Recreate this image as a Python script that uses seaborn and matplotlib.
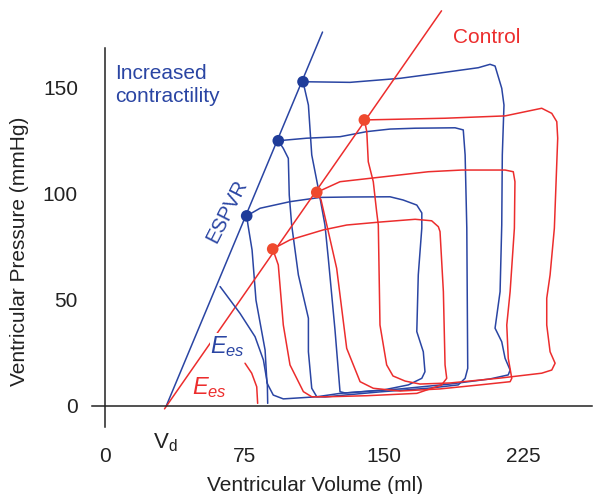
import numpy as np
import pandas as pd
import seaborn as sns
from matplotlib import pyplot as plt

BLUE = "#2a45a3"
RED = "#ec2d2d"
RED_DOT = "#ef4a2e"

# pressure-volume loops, volume (ml) / pressure (mmHg)
blue1_v = [76.2, 83.4, 99.5, 115.7, 131.8, 153.3, 160.3, 167.7, 170.4, 170.4, 168.5, 167.7, 171.2, 172.1, 170.4,
           163.2, 149.7, 126.4, 113.9, 95.9, 90.5, 87.1, 86.1, 81.2, 79.1, 76.9]
blue1_p = [89.4, 93.0, 96.1, 98.1, 98.3, 98.4, 96.9, 94.5, 90.8, 83.7, 61.6, 34.9, 25.4, 16.0, 12.9,
           9.8, 7.4, 5.8, 4.2, 3.2, 5.0, 10.7, 26.2, 49.7, 73.3, 85.1]

blue2_v = [93.2, 108.5, 126.4, 140.8, 153.3, 166.8, 188.3, 192.7, 193.7, 194.6, 195.1, 193.7, 190.0,
           174.8, 147.9, 126.4, 118.3, 113.9, 111.2, 109.4, 109.4, 104.0, 100.4, 99.1, 98.6, 95.9]
blue2_p = [124.8, 126.0, 126.7, 129.1, 130.3, 130.7, 130.9, 129.9, 118.1, 83.7, 17.6, 12.9, 9.8,
           8.3, 6.5, 4.8, 4.1, 4.2, 8.2, 25.4, 41.2, 61.6, 85.1, 99.2, 116.5, 121.2]

blue3_v = [106.5, 131.8, 158.7, 179.3, 200.8, 207.1, 209.8, 213.4, 214.6, 213.7, 213.4, 212.5, 209.8, 213.4,
           215.2, 217.9, 216.9, 207.1, 185.6, 158.7, 137.2, 129.1, 126.4, 123.7, 120.1, 118.3, 114.7,
           111.2, 109.4]
blue3_p = [152.6, 152.3, 154.2, 156.6, 159.2, 160.8, 160.0, 149.5, 141.6, 118.1, 85.1, 53.7, 36.5, 30.1,
           22.3, 16.8, 14.5, 12.6, 10.2, 7.9, 6.5, 6.0, 6.6, 35.7, 69.4, 85.1, 102.4,
           118.1, 141.6]

red1_v = [90.2, 99.5, 117.4, 130.0, 147.9, 166.8, 175.7, 179.3, 180.2, 182.0, 182.9, 183.8, 181.1,
          167.7, 140.8, 119.3, 111.2, 106.7, 99.5, 95.9, 93.2]
red1_p = [73.8, 78.1, 82.8, 85.1, 86.5, 87.8, 87.1, 84.3, 82.0, 53.7, 19.2, 12.9, 9.8,
          5.8, 4.7, 4.2, 4.2, 6.6, 19.2, 38.0, 66.3]

red2_v = [113.9, 126.4, 158.7, 173.9, 191.9, 215.2, 219.6, 220.5, 220.2, 217.9, 216.1, 216.9, 218.8, 217.9,
          201.7, 180.2, 158.7, 144.3, 137.2, 130.0, 124.6, 119.3, 116.2]
red2_p = [100.5, 105.5, 108.7, 110.2, 111.0, 111.0, 110.2, 105.5, 83.6, 53.7, 38.0, 22.3, 12.9, 11.3,
          9.8, 7.9, 6.9, 8.2, 11.3, 27.0, 64.7, 85.1, 96.9]

red3_v = [139.5, 156.0, 182.9, 215.2, 234.9, 240.3, 243.0, 243.5, 241.7, 239.4, 237.6, 237.6, 239.4, 242.1,
          240.3, 234.9, 212.5, 185.6, 169.4, 161.4, 154.9, 151.5, 147.9, 147.0, 146.1, 144.3, 141.6, 140.8]
red3_p = [134.6, 134.9, 135.4, 136.5, 140.1, 137.7, 133.8, 126.0, 83.6, 61.6, 50.6, 38.0, 25.4, 20.0,
          16.8, 15.3, 13.0, 10.7, 10.2, 11.6, 14.0, 19.2, 38.0, 85.1, 91.4, 105.5, 114.9, 129.1]

# end-systolic points
blue_es_v = [76.2, 93.2, 106.5]
blue_es_p = [89.4, 124.8, 152.6]
red_es_v = [90.2, 113.9, 139.5]
red_es_p = [73.8, 100.5, 134.6]

# ESPVR lines (end points)
espvr_blue_v = [33.0, 117.0]
espvr_blue_p = [0.0, 176.0]
espvr_red_v = [32.0, 181.0]
espvr_red_p = [-1.5, 186.0]

# Ees angle arcs
arc_blue_v = [61.9, 72.6, 80.7, 85.2, 87.3, 87.5]
arc_blue_p = [56.1, 43.5, 32.5, 21.5, 10.6, 1.1]
arc_red_v = [75.3, 78.9, 81.6, 82.1]
arc_red_p = [20.0, 15.3, 8.9, 1.1]

x_ticks = [0, 75, 150, 225]
y_ticks = [0, 50, 100, 150]
vd = 33.0

sns.set_style("white")
plt.rcParams["font.family"] = ["Liberation Sans", "DejaVu Sans"]
plt.rcParams["mathtext.fontset"] = "custom"
plt.rcParams["mathtext.it"] = "Liberation Sans:italic"
plt.rcParams["mathtext.rm"] = "Liberation Sans"

fig = plt.figure(figsize=(5.94, 4.94), dpi=100)
ax = fig.add_axes([0.1549, 0.1358, 0.8419, 0.8595])

loops = [
    (blue1_v, blue1_p, BLUE), (blue2_v, blue2_p, BLUE), (blue3_v, blue3_p, BLUE),
    (red1_v, red1_p, RED), (red2_v, red2_p, RED), (red3_v, red3_p, RED),
]
for v, p, c in loops:
    df = pd.DataFrame({"vol": v + v[:1], "pres": p + p[:1]})
    sns.lineplot(data=df, x="vol", y="pres", sort=False, estimator=None, color=c, lw=1.1, ax=ax)

sns.lineplot(x=espvr_blue_v, y=espvr_blue_p, sort=False, estimator=None, color=BLUE, lw=1.1, ax=ax)
sns.lineplot(x=espvr_red_v, y=espvr_red_p, sort=False, estimator=None, color=RED, lw=1.1, ax=ax)
sns.lineplot(x=arc_blue_v, y=arc_blue_p, sort=False, estimator=None, color=BLUE, lw=1.1, ax=ax)
sns.lineplot(x=arc_red_v, y=arc_red_p, sort=False, estimator=None, color=RED, lw=1.1, ax=ax)

sns.scatterplot(x=blue_es_v, y=blue_es_p, color="#1f3c99", s=70, edgecolor="none", zorder=5, ax=ax)
sns.scatterplot(x=red_es_v, y=red_es_p, color=RED_DOT, s=70, edgecolor="none", zorder=5, ax=ax)

ax.set_xlim(-7, 262)
ax.set_ylim(-10, 190)
ax.set_xticks(x_ticks)
ax.set_yticks(y_ticks)
ax.set_xticklabels([str(t) for t in x_ticks])
ax.set_yticklabels([str(t) for t in y_ticks])

for side in ["top", "right"]:
    ax.spines[side].set_visible(False)
ax.spines["left"].set_position(("data", 0))
ax.spines["bottom"].set_position(("data", 0))
ax.spines["left"].set_bounds(-10, 168.5)
for side in ["left", "bottom"]:
    ax.spines[side].set_linewidth(1.1)
    ax.spines[side].set_color("#222222")

ax.tick_params(axis="both", direction="out", length=10, width=1.1, color="#222222",
               labelsize=15, labelcolor="#222222")
ax.tick_params(axis="x", pad=20)
ax.tick_params(axis="y", pad=9.5)

ax.set_xlabel("Ventricular Volume (ml)", fontsize=15, color="#222222", va="center")
ax.set_ylabel("Ventricular Pressure (mmHg)", fontsize=15, color="#222222", va="center")
ax.xaxis.set_label_coords(0.447, -0.137)
ax.yaxis.set_label_coords(-0.144, 0.414)

ax.text(5.4, 151, "Increased\ncontractility", color=BLUE, fontsize=15, ha="left", va="center",
        linespacing=1.25)
ax.text(205.5, 173.2, "Control", color=RED, fontsize=15, ha="center", va="center")
ax.text(65.6, 91.7, "ESPVR", color=BLUE, fontsize=14.5, ha="center", va="center", rotation=63)
ax.text(66, 28, r"$E_{es}$", color=BLUE, fontsize=17, ha="center", va="center", zorder=6,
        bbox=dict(facecolor="white", edgecolor="none", pad=0.5))
ax.text(56.2, 8.5, r"$E_{es}$", color=RED, fontsize=17, ha="center", va="center")
ax.text(vd - 0.5, -17.5, r"$\mathregular{V_d}$", color="#222222", fontsize=16, ha="center", va="center")

fig.savefig("out.png", dpi=100, facecolor="white")
plt.close(fig)
